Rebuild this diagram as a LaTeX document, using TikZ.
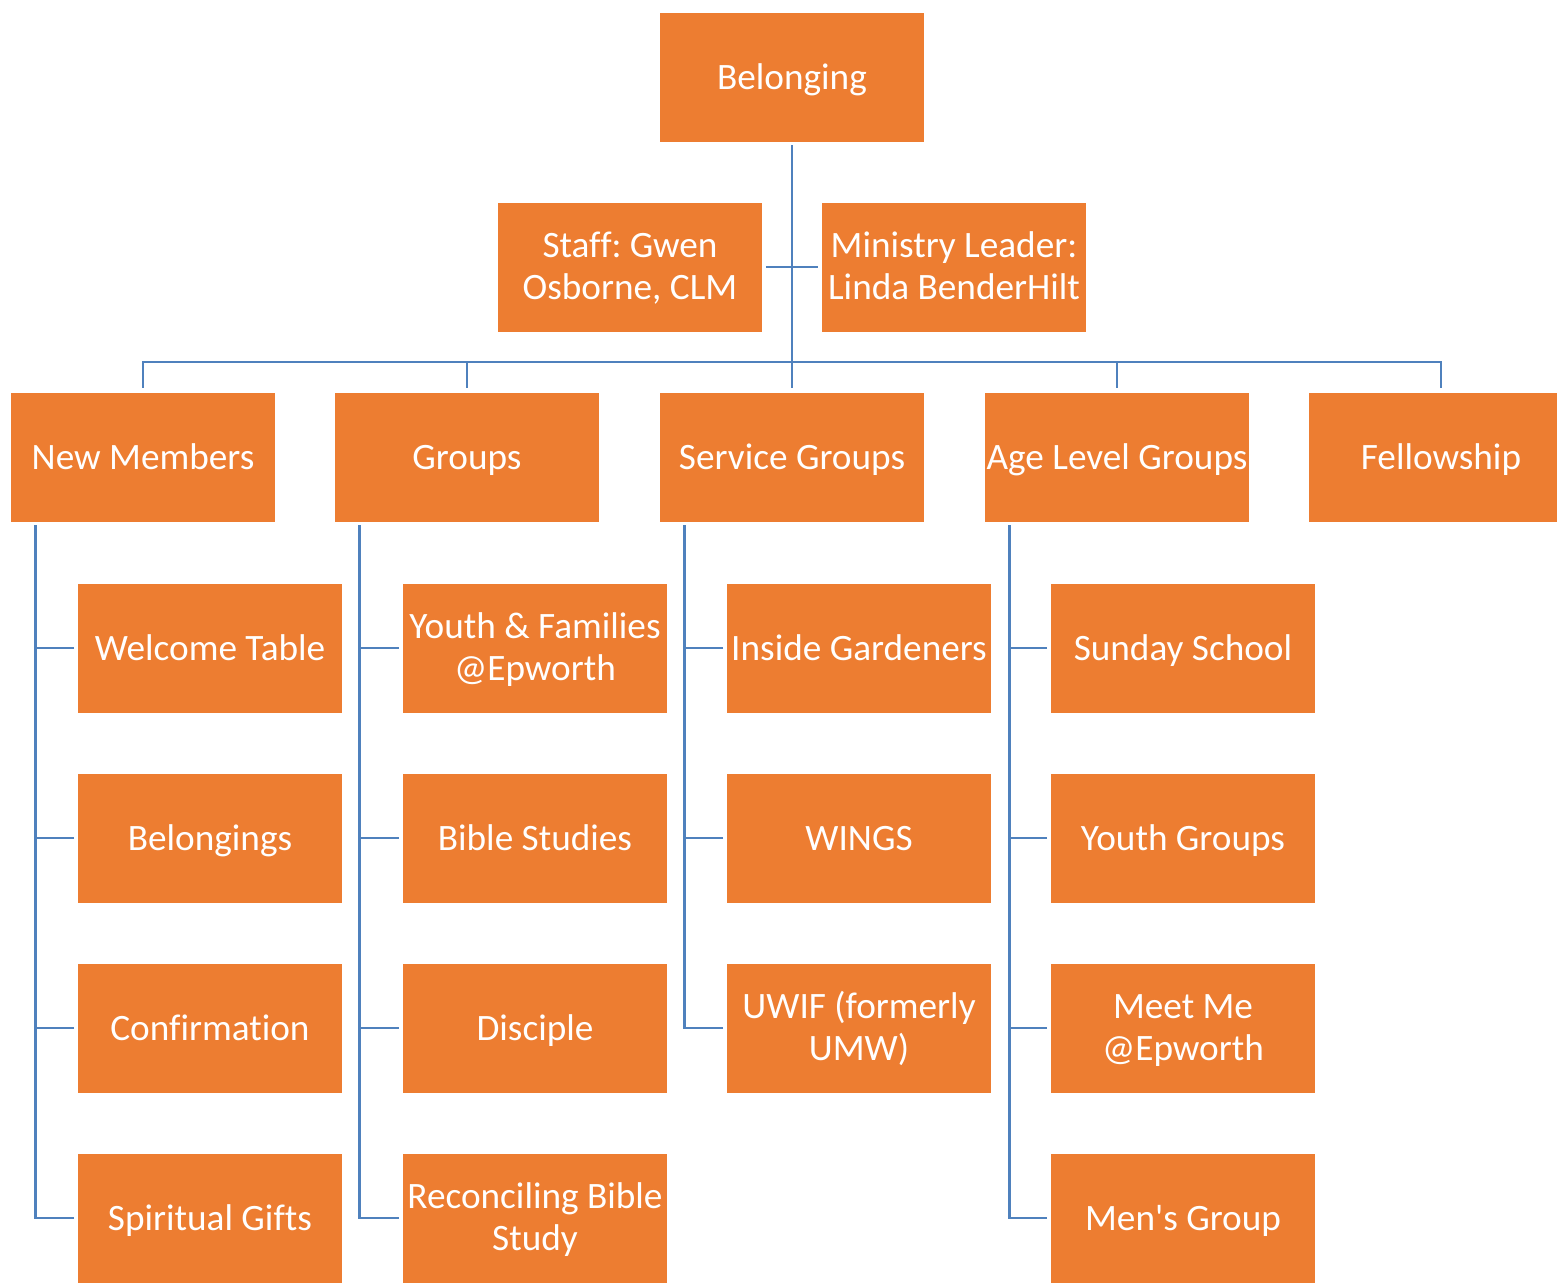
\documentclass[tikz,border=0pt]{standalone}
\usepackage{fontspec}
\newfontfamily\boxfont{Carlito}[Ligatures=CommonOff]
\usetikzlibrary{calc}
\definecolor{boxorange}{HTML}{ED7D31}
\definecolor{linkblue}{HTML}{4F81BD}
\newcommand\toprow{\rule{0pt}{20.4pt}}
\tikzset{
 box/.style={fill=boxorange, draw=white, line width=0.4pt, text=white, minimum width=5.3cm, minimum height=2.6cm, inner sep=0, align=center, font=\boxfont\fontsize{21.2}{24}\selectfont\frenchspacing, execute at begin node={\rule{0pt}{21.4pt}}, execute at end node=\strut},
 link/.style={linkblue, line width=1.6pt}
}

\begin{document}
\begin{tikzpicture}[x=0.02cm, y=-0.02cm]
\useasboundingbox (0,0) rectangle (1557,1282);
\node[box] (bel) at (792,77) {Belonging};
\node[box] (staff) at (630,267) {\toprow Staff: Gwen\\Osborne, CLM};
\node[box] (lead) at (954,267) {\toprow Ministry Leader:\\Linda BenderHilt};
\foreach \n/\x/\t in {newm/143/New Members, grp/467/Groups, serv/792/Service Groups, age/1117/Age Level Groups, fell/1441/Fellowship}
 \node[box] (\n) at (\x,457) {\t};
\foreach \t [count=\i] in {Welcome Table, Belongings, Confirmation, Spiritual Gifts}
 \node[box] (newm\i) at (210,458+190*\i) {\t};
\foreach \t [count=\i] in {{\toprow Youth \& Families\\@Epworth}, Bible Studies, Disciple, {\toprow Reconciling Bible\\Study}}
 \node[box] (grp\i) at (535,458+190*\i) {\t};
\foreach \t [count=\i] in {Inside Gardeners, WINGS, {\toprow UWIF (formerly\\UMW)}}
 \node[box] (serv\i) at (859,458+190*\i) {\t};
\foreach \t [count=\i] in {Sunday School, Youth Groups, {\toprow Meet Me\\@Epworth}, Men's Group}
 \node[box] (age\i) at (1183,458+190*\i) {\t};
\draw[link, shorten <=0.06cm, shorten >=0.08cm] (bel.south) -- (serv.north);
\draw[link, shorten <=0.06cm, shorten >=0.06cm] (staff.east) -- (lead.west);
\coordinate (bar) at (792,362);
\foreach \n in {newm,grp,age,fell}
 \draw[link] ([yshift=0.08cm]\n.north) |- (bar);
\foreach \n/\k in {newm/4, grp/4, serv/3, age/4} {
 \draw[link] ([xshift=0.5cm,yshift=-0.06cm]\n.south west) |- ([xshift=-0.06cm]\n\k.west);
 \foreach \i in {1,...,\k}
  \draw[link] ([xshift=-0.06cm]\n\i.west) -- ($(\n\i.west -| \n.south west)+(25,0)$);
}
\end{tikzpicture}
\end{document}
